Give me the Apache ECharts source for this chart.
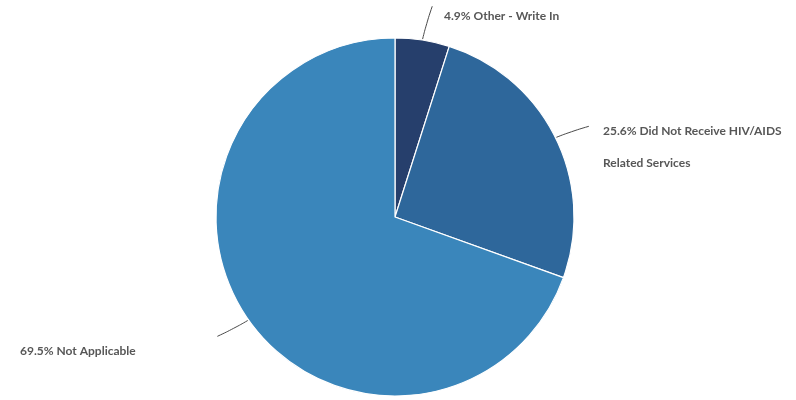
<!DOCTYPE html>
<html>
<head>
<meta charset="utf-8">
<script src="https://cdn.jsdelivr.net/npm/echarts@6/dist/echarts.min.js"></script>
<style>
  html, body { margin: 0; padding: 0; background: #ffffff; }
  #chart { width: 796px; height: 400px; }
</style>
</head>
<body>
<div id="chart"></div>
<script>
// Response categories and their shares (percent)
const categories = ['Other - Write In', 'Did Not Receive HIV/AIDS Related Services', 'Not Applicable'];
const values = [4.9, 25.6, 69.5];
const labelTexts = ['4.9% Other - Write In', '25.6% Did Not Receive HIV/AIDS\nRelated Services', '69.5% Not Applicable'];
const colors = ['#263f6c', '#2e679b', '#3a86bb'];

// Where each outside label sits (left edge x, vertical centre y)
const labelSpots = [
  { x: 444, y: 16 },
  { x: 603, y: 147 },
  { x: 20, y: 351 }
];

const CX = 395, CY = 217, R = 179;
const total = values.reduce((a, b) => a + b, 0);

// Short, gently curved leader stroke running outward from the middle of each slice's arc
function leaderPoints(i) {
  let before = 0;
  for (let k = 0; k < i; k++) before += values[k];
  const mid = (before + values[i] / 2) / total * Math.PI * 2; // clockwise from 12 o'clock
  const at = (r, a) => [CX + r * Math.sin(a), CY - r * Math.cos(a)];
  const bend = 0.007;
  return [at(R + 1, mid), at(R + 17, mid + bend), at(R + 35, mid + bend * 3)];
}

const chart = echarts.init(document.getElementById('chart'), null, { renderer: 'canvas' });

chart.setOption({
  animation: false,
  backgroundColor: '#ffffff',
  series: [{
    type: 'pie',
    center: [CX, CY],
    radius: R,
    startAngle: 90,
    clockwise: true,
    avoidLabelOverlap: false,
    itemStyle: { borderColor: '#ffffff', borderWidth: 1.2 },
    label: {
      show: true,
      position: 'outside',
      formatter: p => labelTexts[p.dataIndex],
      fontFamily: 'Lato, "Open Sans", sans-serif',
      fontSize: 12,
      fontWeight: 'bold',
      color: '#575757',
      lineHeight: 32
    },
    labelLine: {
      show: true,
      length: 20,
      length2: 10,
      smooth: 0.5,
      lineStyle: { color: '#4a4a4a', width: 1 }
    },
    labelLayout: params => {
      const s = labelSpots[params.dataIndex];
      return {
        x: s.x, y: s.y, align: 'left', verticalAlign: 'middle',
        labelLinePoints: leaderPoints(params.dataIndex)
      };
    },
    data: categories.map((name, i) => ({
      name,
      value: values[i],
      itemStyle: { color: colors[i] }
    }))
  }]
});
</script>
</body>
</html>
